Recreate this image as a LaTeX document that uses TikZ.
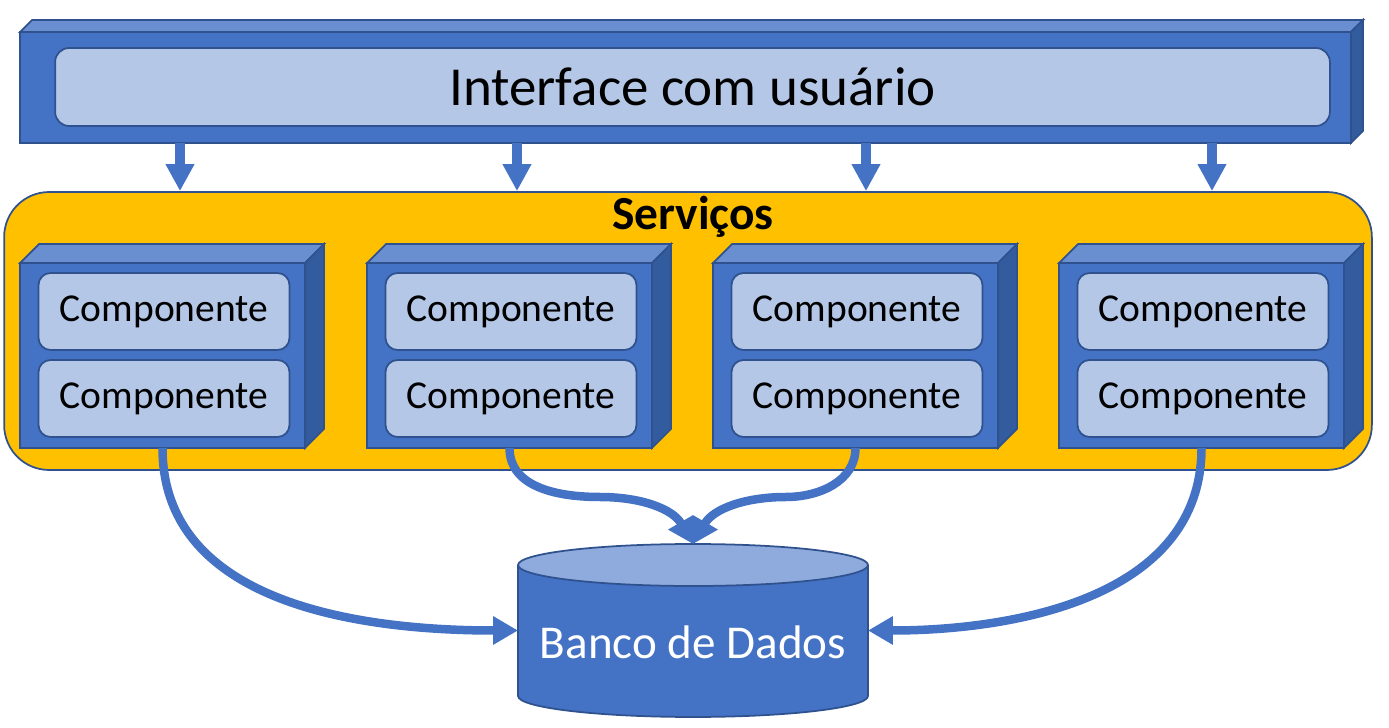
\documentclass[tikz,border=0pt]{standalone}
\usepackage{fontspec}
\setmainfont{Carlito}
\usepackage{tikz}
\usetikzlibrary{positioning,arrows.meta}
\definecolor{blfront}{HTML}{4472C4}
\definecolor{bltop}{HTML}{6A8FD0}
\definecolor{blside}{HTML}{335C9E}
\definecolor{bledge}{HTML}{2F528F}
\definecolor{bllight}{HTML}{B4C7E7}
\definecolor{dbcap}{HTML}{8FAADC}
\definecolor{svcfill}{HTML}{FFC000}

\begin{document}
\begin{tikzpicture}[x=0.02cm, y=0.02cm,
    edge/.style      ={draw=bledge, line width=0.035cm},
    cubefront/.style ={edge, fill=blfront, inner sep=0pt, outer sep=0pt},
    cubetop/.style   ={edge, fill=bltop},
    cubeside/.style  ={edge, fill=blside},
    comp/.style      ={edge, fill=bllight, rounded corners=0.24cm, minimum width=5.02cm, minimum height=1.54cm, font=\fontsize{22.5}{26}\selectfont},
    downarrow/.style ={draw=blfront, line width=0.2cm, -{Triangle[width=0.54cm, length=0.54cm]}},
    dbarrow/.style   ={draw=blfront, line width=0.17cm, -{Triangle[width=0.54cm, length=0.5cm]}}]
      %\draw [dotted] (0,0) grid[step=100] (1389,727);
      \useasboundingbox (0,0) rectangle (1389,727);
      \node [edge, fill=svcfill, rounded corners=0.9cm, minimum width=27.36cm, minimum height=5.56cm] (svc) at (688,396) {};
      \node [font=\bfseries\fontsize{27}{32}\selectfont] (st) at (693,510) {Serviços};
      \node [cubefront, minimum width=26.62cm, minimum height=2.22cm] (ui) at (685.5,639.5) {};
      \draw [cubetop]  (ui.north west) -- ++(12,12) -- ++(1331,0) -- (ui.north east) -- cycle;
      \draw [cubeside] (ui.north east) -- ++(12,12) -- ++(0,-111) -- (ui.south east) -- cycle;
      \node [comp, rounded corners=0.28cm, minimum width=25.5cm, minimum height=1.56cm, font=\fontsize{31.3}{36}\selectfont] (uin) at (692.5,640) {Interface com usuário};
      \node [cubefront, minimum width=5.7cm, minimum height=3.7cm] (k1) at ( 162.5,371.5) {};
      \node [cubefront, minimum width=5.7cm, minimum height=3.7cm] (k2) at ( 509.5,371.5) {};
      \node [cubefront, minimum width=5.7cm, minimum height=3.7cm] (k3) at ( 855.5,371.5) {};
      \node [cubefront, minimum width=5.7cm, minimum height=3.7cm] (k4) at (1201.5,371.5) {};
      \draw [cubetop]  (k1.north west) -- ++(19,19) -- ++(285,0) -- (k1.north east) -- cycle;
      \draw [cubeside] (k1.north east) -- ++(19,19) -- ++(0,-185) -- (k1.south east) -- cycle;
      \draw [cubetop]  (k2.north west) -- ++(19,19) -- ++(285,0) -- (k2.north east) -- cycle;
      \draw [cubeside] (k2.north east) -- ++(19,19) -- ++(0,-185) -- (k2.south east) -- cycle;
      \draw [cubetop]  (k3.north west) -- ++(19,19) -- ++(285,0) -- (k3.north east) -- cycle;
      \draw [cubeside] (k3.north east) -- ++(19,19) -- ++(0,-185) -- (k3.south east) -- cycle;
      \draw [cubetop]  (k4.north west) -- ++(19,19) -- ++(285,0) -- (k4.north east) -- cycle;
      \draw [cubeside] (k4.north east) -- ++(19,19) -- ++(0,-185) -- (k4.south east) -- cycle;
      \node [comp] (c1a) at ( 164,415.5) {Componente};
      \node [comp] (c1b) at ( 164,328.5) {Componente};
      \node [comp] (c2a) at ( 511,415.5) {Componente};
      \node [comp] (c2b) at ( 511,328.5) {Componente};
      \node [comp] (c3a) at ( 857,415.5) {Componente};
      \node [comp] (c3b) at ( 857,328.5) {Componente};
      \node [comp] (c4a) at (1203,415.5) {Componente};
      \node [comp] (c4b) at (1203,328.5) {Componente};
      \node [minimum width=7cm, minimum height=2.62cm, inner sep=0pt, outer sep=0pt] (db) at (693,96.5) {};
      \fill [blfront] (db.north west) -- (db.south west) arc[start angle=180, end angle=360, x radius=3.5cm, y radius=0.42cm] -- (db.north east) -- cycle;
      \draw [edge] (db.north west) -- (db.south west) arc[start angle=180, end angle=360, x radius=3.5cm, y radius=0.42cm] -- (db.north east);
      \draw [edge, fill=dbcap] (db.north) ellipse [x radius=3.5cm, y radius=0.42cm];
      \node [text=white, font=\fontsize{26.8}{32}\selectfont] (dbl) at (693,85) {Banco de Dados};
      \coordinate (dbtop) at (693,183);
      \draw [dbarrow] (k1.south) to[out=-90, in=180] (db.west);
      \draw [dbarrow] (k4.south) to[out=-90, in=0] (db.east);
      \draw [dbarrow] (k2.south) to[out=-90, in=180] (600,230) to[out=0, in=120] (dbtop);
      \draw [dbarrow] (k3.south) to[out=-90, in=0] (786,230) to[out=180, in=60] (dbtop);
      \draw [downarrow] ([xshift=0.35cm]ui.south -| k1.north) -- ([xshift=0.35cm]svc.north -| k1.north);
      \draw [downarrow] ([xshift=0.15cm]ui.south -| k2.north) -- ([xshift=0.15cm]svc.north -| k2.north);
      \draw [downarrow] ([xshift=0.21cm]ui.south -| k3.north) -- ([xshift=0.21cm]svc.north -| k3.north);
      \draw [downarrow] ([xshift=0.21cm]ui.south -| k4.north) -- ([xshift=0.21cm]svc.north -| k4.north);
\end{tikzpicture}
\end{document}
